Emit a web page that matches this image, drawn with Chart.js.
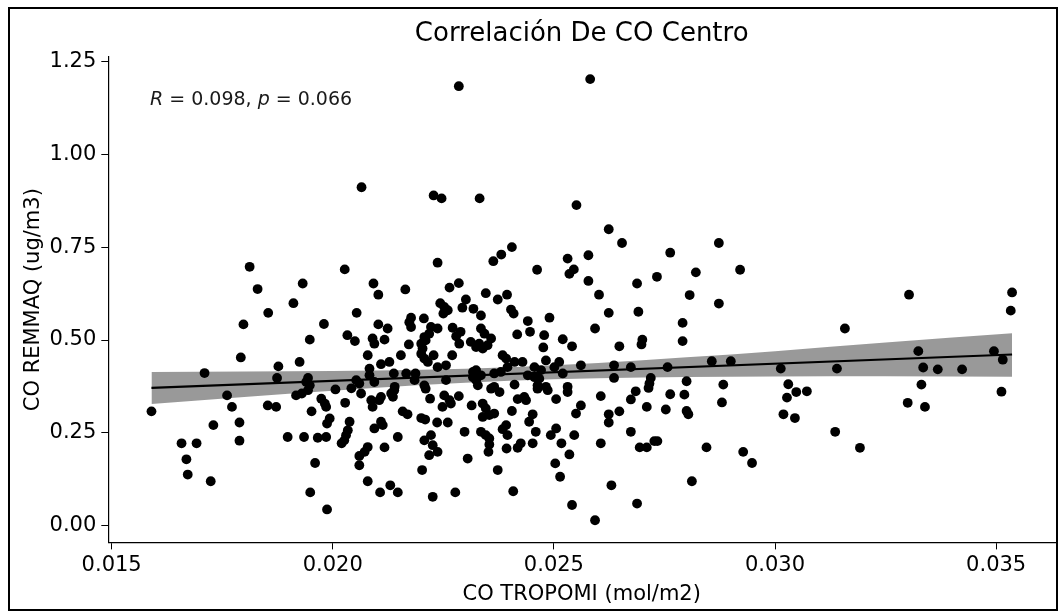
<!DOCTYPE html>
<html>
<head>
<meta charset="utf-8">
<script src="https://cdn.jsdelivr.net/npm/chart.js@4.4.1/dist/chart.umd.min.js"></script>
<style>
  html, body { margin: 0; padding: 0; background: #ffffff; }
  #wrap { width: 1060px; height: 612px; position: relative; }
</style>
</head>
<body>
<div id="wrap"><canvas id="chart" width="1060" height="612"></canvas></div>
<script>
// CO TROPOMI (mol/m2) and CO REMMAQ (ug/m3)
const co_tropomi = [
  0.02065, 0.01812, 0.01830, 0.01932, 0.02027, 0.01911, 0.01854, 0.02054, 0.01798, 0.01980,
  0.01948, 0.02033, 0.02050, 0.01792, 0.01877, 0.01925, 0.01710, 0.01874, 0.01944, 0.02053,
  0.01761, 0.02006, 0.02042, 0.01590, 0.01772, 0.01853, 0.01872, 0.01917, 0.01930, 0.01944,
  0.01948, 0.01940, 0.01952, 0.01974, 0.01982, 0.01985, 0.02028, 0.01993, 0.01987, 0.02038,
  0.02034, 0.02030, 0.02026, 0.02020, 0.01730, 0.01789, 0.01658, 0.01692, 0.01789, 0.01898,
  0.01935, 0.01966, 0.01985, 0.01669, 0.01672, 0.01724, 0.01960, 0.01949, 0.01987, 0.02060,
  0.02060, 0.02285, 0.02582, 0.02228, 0.02246, 0.02332, 0.02551, 0.02237, 0.02092, 0.02103,
  0.02164, 0.02264, 0.02285, 0.02243, 0.02252, 0.02260, 0.02250, 0.02301, 0.02293, 0.02318,
  0.02177, 0.02173, 0.02177, 0.02206, 0.02103, 0.02124, 0.02222, 0.02237, 0.02218, 0.02271,
  0.02289, 0.02279, 0.02090, 0.02094, 0.02117, 0.02207, 0.02200, 0.02203, 0.02210, 0.02172,
  0.02286, 0.02312, 0.02324, 0.02079, 0.02154, 0.02200, 0.02207, 0.02215, 0.02228, 0.02270,
  0.02109, 0.02128, 0.02083, 0.02083, 0.02138, 0.02166, 0.02187, 0.02185, 0.02237, 0.02256,
  0.02317, 0.02317, 0.02060, 0.02140, 0.02207, 0.02256, 0.02094, 0.02405, 0.02381, 0.02363,
  0.02531, 0.02578, 0.02462, 0.02535, 0.02545, 0.02578, 0.02602, 0.02346, 0.02373, 0.02394,
  0.02335, 0.02403, 0.02409, 0.02441, 0.02490, 0.02593, 0.02335, 0.02343, 0.02358, 0.02331,
  0.02350, 0.02339, 0.02417, 0.02446, 0.02478, 0.02520, 0.02476, 0.02541, 0.02384, 0.02392,
  0.02411, 0.02429, 0.02482, 0.02512, 0.02561, 0.02456, 0.02471, 0.02501, 0.02395, 0.02324,
  0.02335, 0.02365, 0.02380, 0.02520, 0.02441, 0.02456, 0.02467, 0.02411, 0.02324, 0.02328,
  0.02365, 0.02463, 0.02482, 0.02531, 0.02064, 0.02087, 0.02090, 0.02109, 0.02105, 0.02132,
  0.02139, 0.02136, 0.02210, 0.02220, 0.02252, 0.02264, 0.02248, 0.02267, 0.02285, 0.02314,
  0.02158, 0.02169, 0.02200, 0.02209, 0.02236, 0.02260, 0.02109, 0.02094, 0.02113, 0.02298,
  0.02147, 0.02222, 0.02207, 0.02226, 0.02237, 0.02218, 0.02079, 0.02072, 0.02117, 0.02305,
  0.02202, 0.02079, 0.02130, 0.02147, 0.02107, 0.02226, 0.02277, 0.02358, 0.02377, 0.02463,
  0.02486, 0.02505, 0.02531, 0.02418, 0.02433, 0.02437, 0.02606, 0.02339, 0.02346, 0.02339,
  0.02365, 0.02354, 0.02405, 0.02452, 0.02444, 0.02561, 0.02550, 0.02392, 0.02384, 0.02395,
  0.02459, 0.02335, 0.02346, 0.02354, 0.02354, 0.02352, 0.02505, 0.02493, 0.02546, 0.02425,
  0.02418, 0.02393, 0.02452, 0.02517, 0.02606, 0.02535, 0.02503, 0.02373, 0.02514, 0.02408,
  0.02541, 0.02593, 0.02624, 0.02654, 0.02763, 0.02873, 0.02921, 0.02821, 0.02733, 0.02688,
  0.02807, 0.02873, 0.02624, 0.02691, 0.02791, 0.03158, 0.02648, 0.02700, 0.02698, 0.02791,
  0.02857, 0.02900, 0.02636, 0.02674, 0.02757, 0.03013, 0.03140, 0.02636, 0.02719, 0.02716,
  0.02714, 0.02800, 0.02883, 0.02685, 0.02674, 0.02763, 0.02795, 0.02880, 0.03030, 0.03048,
  0.03072, 0.03027, 0.02710, 0.02753, 0.02800, 0.02804, 0.02648, 0.02624, 0.02624, 0.03019,
  0.03045, 0.02674, 0.02694, 0.02710, 0.02727, 0.02734, 0.02845, 0.02928, 0.02948, 0.03136,
  0.02630, 0.02812, 0.02688, 0.03303, 0.03536, 0.03533, 0.03324, 0.03495, 0.03515, 0.03335,
  0.03368, 0.03423, 0.03331, 0.03512, 0.03300, 0.03339, 0.03192
];
const co_remmaq = [
  0.911, 0.697, 0.637, 0.652, 0.690, 0.599, 0.573, 0.573, 0.542, 0.543,
  0.501, 0.513, 0.497, 0.453, 0.429, 0.441, 0.411, 0.398, 0.398, 0.392,
  0.351, 0.367, 0.370, 0.308, 0.320, 0.324, 0.320, 0.351, 0.356, 0.365,
  0.378, 0.387, 0.308, 0.342, 0.329, 0.320, 0.331, 0.289, 0.275, 0.280,
  0.257, 0.244, 0.230, 0.222, 0.271, 0.278, 0.222, 0.222, 0.229, 0.239,
  0.239, 0.237, 0.239, 0.179, 0.138, 0.120, 0.169, 0.090, 0.044, 0.188,
  0.163, 1.183, 1.202, 0.889, 0.881, 0.881, 0.863, 0.708, 0.652, 0.622,
  0.636, 0.641, 0.653, 0.599, 0.589, 0.580, 0.571, 0.609, 0.587, 0.584,
  0.560, 0.548, 0.535, 0.558, 0.542, 0.531, 0.535, 0.531, 0.517, 0.533,
  0.522, 0.510, 0.504, 0.490, 0.501, 0.508, 0.490, 0.477, 0.499, 0.488,
  0.490, 0.495, 0.481, 0.459, 0.459, 0.463, 0.450, 0.441, 0.459, 0.459,
  0.435, 0.441, 0.423, 0.405, 0.410, 0.410, 0.410, 0.392, 0.427, 0.432,
  0.414, 0.400, 0.383, 0.374, 0.378, 0.392, 0.387, 0.750, 0.730, 0.712,
  0.719, 0.728, 0.689, 0.678, 0.690, 0.659, 0.622, 0.626, 0.609, 0.622,
  0.566, 0.582, 0.571, 0.551, 0.560, 0.531, 0.531, 0.517, 0.504, 0.490,
  0.486, 0.477, 0.515, 0.522, 0.513, 0.502, 0.480, 0.483, 0.459, 0.450,
  0.441, 0.441, 0.445, 0.441, 0.432, 0.427, 0.419, 0.427, 0.427, 0.419,
  0.405, 0.410, 0.414, 0.410, 0.405, 0.400, 0.396, 0.380, 0.392, 0.378,
  0.374, 0.378, 0.374, 0.374, 0.356, 0.338, 0.320, 0.347, 0.338, 0.356,
  0.365, 0.347, 0.369, 0.342, 0.351, 0.338, 0.320, 0.329, 0.349, 0.324,
  0.308, 0.300, 0.290, 0.286, 0.278, 0.278, 0.280, 0.262, 0.271, 0.253,
  0.239, 0.244, 0.230, 0.217, 0.199, 0.190, 0.212, 0.199, 0.211, 0.181,
  0.150, 0.120, 0.109, 0.090, 0.090, 0.078, 0.090, 0.369, 0.360, 0.369,
  0.365, 0.341, 0.360, 0.341, 0.347, 0.338, 0.349, 0.329, 0.316, 0.293,
  0.302, 0.298, 0.309, 0.300, 0.280, 0.324, 0.302, 0.271, 0.260, 0.244,
  0.253, 0.253, 0.244, 0.235, 0.219, 0.199, 0.262, 0.244, 0.244, 0.222,
  0.210, 0.208, 0.222, 0.222, 0.222, 0.192, 0.168, 0.150, 0.132, 0.093,
  0.056, 0.015, 0.798, 0.761, 0.735, 0.761, 0.689, 0.682, 0.670, 0.652,
  0.621, 0.598, 0.573, 0.576, 0.546, 0.531, 0.483, 0.501, 0.488, 0.497,
  0.443, 0.443, 0.432, 0.427, 0.427, 0.423, 0.423, 0.398, 0.398, 0.383,
  0.371, 0.389, 0.380, 0.362, 0.340, 0.354, 0.353, 0.332, 0.381, 0.360,
  0.362, 0.345, 0.320, 0.313, 0.309, 0.300, 0.308, 0.300, 0.278, 0.300,
  0.290, 0.253, 0.211, 0.211, 0.228, 0.228, 0.211, 0.199, 0.169, 0.253,
  0.109, 0.120, 0.060, 0.622, 0.628, 0.579, 0.470, 0.470, 0.447, 0.426,
  0.421, 0.421, 0.380, 0.361, 0.331, 0.320, 0.210
];

// Regression line end points and the confidence band edges
const fit_x = [0.0159, 0.03536];
const fit_y = [0.371, 0.461];
const band_x     = [0.0159, 0.018, 0.020, 0.022, 0.024, 0.026, 0.028, 0.030, 0.0325, 0.03536];
const band_upper = [0.414, 0.415, 0.4165, 0.420, 0.4265, 0.438, 0.4535, 0.470, 0.493, 0.518];
const band_lower = [0.328, 0.3466, 0.3635, 0.379, 0.3905, 0.3974, 0.4005, 0.402, 0.4028, 0.401];

// Axis ranges and tick labels
const X_MIN = 0.014924, X_MAX = 0.036333;
const Y_MIN = -0.0446, Y_MAX = 1.2615;
const X_TICKS = [0.015, 0.020, 0.025, 0.030, 0.035];
const Y_TICKS = [0.00, 0.25, 0.50, 0.75, 1.00, 1.25];

const TITLE = "Correlación De CO Centro";
const FONT = "'DejaVu Sans', 'Liberation Sans', Arial, sans-serif";

const points = co_tropomi.map((x, i) => ({ x: x, y: co_remmaq[i] }));
const fitLine = fit_x.map((x, i) => ({ x: x, y: fit_y[i] }));
const bandUp = band_x.map((x, i) => ({ x: x, y: band_upper[i] }));
const bandLo = band_x.map((x, i) => ({ x: x, y: band_lower[i] }));

// Background, outer frame, title and the R / p label
const decorations = {
    id: 'decorations',
    beforeDraw(c) {
        const ctx = c.ctx;
        ctx.save();
        ctx.fillStyle = '#ffffff';
        ctx.fillRect(0, 0, c.width, c.height);
        ctx.restore();
    },
    afterDraw(c) {
        const ctx = c.ctx;
        const area = c.chartArea;
        ctx.save();
        ctx.strokeStyle = '#000000';
        ctx.lineWidth = 2;
        ctx.strokeRect(9, 8, 1048, 602);

        ctx.fillStyle = '#000000';
        ctx.font = `26px ${FONT}`;
        ctx.textAlign = 'center';
        ctx.textBaseline = 'alphabetic';
        ctx.fillText(TITLE, (area.left + area.right) / 2, 41);

        // "R = 0.098, p = 0.066" with italic R and p
        const parts = [
            ['R', true], [' = 0.098, ', false], ['p', true], [' = 0.066', false]
        ];
        ctx.textAlign = 'left';
        ctx.fillStyle = '#1a1a1a';
        let x = 150;
        parts.forEach(([txt, ital]) => {
            ctx.font = `${ital ? 'italic ' : ''}19px ${FONT}`;
            ctx.fillText(txt, x, 105);
            x += ctx.measureText(txt).width;
        });
        ctx.restore();
    }
};

const ctx = document.getElementById("chart").getContext("2d");
const chart = new Chart(ctx, {
    type: 'scatter',
    data: {
        datasets: [
            {
                type: 'line',
                data: fitLine,
                borderColor: '#000000',
                borderWidth: 2.2,
                pointRadius: 0,
                fill: false,
                order: 1
            },
            {
                type: 'line',
                data: bandUp,
                borderWidth: 0,
                borderColor: 'rgba(0,0,0,0)',
                pointRadius: 0,
                cubicInterpolationMode: 'monotone',
                backgroundColor: 'rgba(0,0,0,0.4)',
                fill: '+1',
                order: 2
            },
            {
                type: 'line',
                data: bandLo,
                borderWidth: 0,
                borderColor: 'rgba(0,0,0,0)',
                pointRadius: 0,
                cubicInterpolationMode: 'monotone',
                fill: false,
                order: 2
            },
            {
                data: points,
                backgroundColor: '#000000',
                borderWidth: 0,
                pointRadius: 4.9,
                order: 3
            }
        ]
    },
    options: {
        responsive: false,
        animation: false,
        layout: { padding: { top: 57, right: 4.4, left: 0, bottom: 0 } },
        plugins: {
            legend: { display: false },
            tooltip: { enabled: false },
            title: { display: false }
        },
        scales: {
            x: {
                type: 'linear',
                min: X_MIN,
                max: X_MAX,
                afterBuildTicks: s => { s.ticks = X_TICKS.map(v => ({ value: v })); },
                afterFit: s => { s.height = 69.6; },
                ticks: {
                    callback: v => v.toFixed(3),
                    color: '#000000',
                    font: { family: FONT, size: 21 },
                    padding: 4,
                    maxRotation: 0,
                    autoSkip: false
                },
                grid: { drawOnChartArea: false, drawTicks: true, tickLength: 7, color: '#000000' },
                border: { color: '#000000', width: 1.2 },
                title: {
                    display: true,
                    text: 'CO TROPOMI (mol/m2)',
                    color: '#000000',
                    font: { family: FONT, size: 21 },
                    padding: { top: 0, bottom: 5 }
                }
            },
            y: {
                type: 'linear',
                min: Y_MIN,
                max: Y_MAX,
                afterBuildTicks: s => { s.ticks = Y_TICKS.map(v => ({ value: v })); },
                afterFit: s => { s.width = 108.3; },
                ticks: {
                    callback: v => v.toFixed(2),
                    color: '#000000',
                    font: { family: FONT, size: 21 },
                    padding: 5,
                    autoSkip: false
                },
                grid: { drawOnChartArea: false, drawTicks: true, tickLength: 7, color: '#000000' },
                border: { color: '#000000', width: 1.2 },
                title: {
                    display: true,
                    text: 'CO REMMAQ (ug/m3)',
                    color: '#000000',
                    font: { family: FONT, size: 21 },
                    padding: { top: 21, bottom: 0 }
                }
            }
        }
    },
    plugins: [decorations]
});
</script>
</body>
</html>
